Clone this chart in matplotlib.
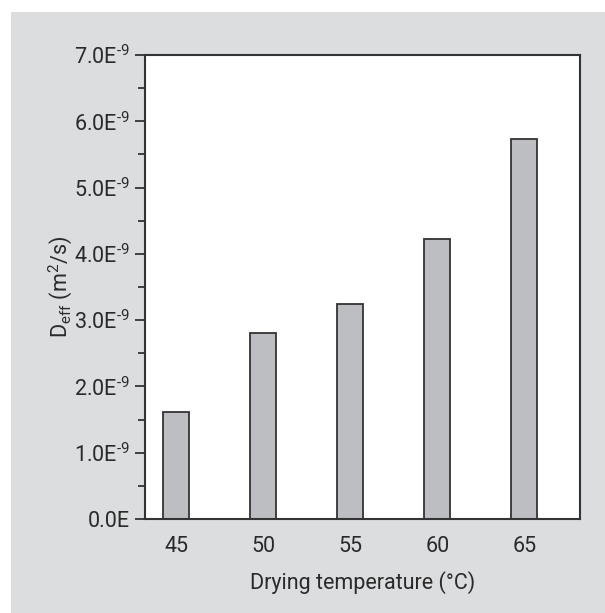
import matplotlib
matplotlib.use("Agg")
import matplotlib.pyplot as plt
from matplotlib.patches import Rectangle
from matplotlib.ticker import MultipleLocator, FixedLocator, FixedFormatter

# Data: effective moisture diffusivity at each drying temperature
temperatures = [45, 50, 55, 60, 65]
d_eff = [1.61e-9, 2.81e-9, 3.24e-9, 4.23e-9, 5.73e-9]
y_tick_values = [0, 1e-9, 2e-9, 3e-9, 4e-9, 5e-9, 6e-9, 7e-9]
y_tick_labels = ["0.0E"] + [f"{v}.0E$^{{\\text{{-9}}}}$" for v in range(1, 8)]

family = "Roboto"
plt.rcParams["font.family"] = [family, "DejaVu Sans"]
plt.rcParams["font.stretch"] = "condensed"
plt.rcParams["mathtext.fontset"] = "custom"
plt.rcParams["mathtext.rm"] = family
plt.rcParams["mathtext.it"] = family
plt.rcParams["mathtext.default"] = "regular"

W, H = 605, 613
fig = plt.figure(figsize=(W / 100, H / 100), dpi=100, facecolor="white")

# grey panel behind the plot
fig.patches.append(Rectangle((11 / W, 0), (W - 11) / W, (H - 12) / H,
                             transform=fig.transFigure, facecolor="#dcdddf",
                             edgecolor="none", zorder=-10))

left, right, top, bottom = 145, 580, 55, 519
ax = fig.add_axes([left / W, (H - bottom) / H, (right - left) / W, (bottom - top) / H])
ax.set_zorder(1)
ax.set_facecolor("white")

dark = "#333333"
text_col = "#2a2a2a"
ax.bar(temperatures, d_eff, width=1.5, color="#bdbec2", edgecolor=dark, linewidth=1.3, zorder=2)

ax.set_xlim(43.2, 68.2)
ax.set_ylim(0, 7e-9)
ax.set_xticks(temperatures)
ax.set_xticklabels([str(t) for t in temperatures])
ax.yaxis.set_major_locator(FixedLocator(y_tick_values))
ax.yaxis.set_major_formatter(FixedFormatter(y_tick_labels))
ax.yaxis.set_minor_locator(MultipleLocator(0.5e-9))

for s in ax.spines.values():
    s.set_color(dark)
    s.set_linewidth(1.5)

ax.tick_params(axis="y", which="major", direction="out", length=7, width=1.3,
               color=dark, labelsize=15.5, labelcolor=text_col, pad=4)
ax.tick_params(axis="y", which="minor", direction="out", length=5, width=1.3, color=dark)
ax.tick_params(axis="x", which="both", length=0, labelsize=15.5, labelcolor=text_col, pad=12)

ax.set_xlabel("Drying temperature (°C)", fontsize=15.5, color=text_col, labelpad=10)
ax.set_ylabel("D$_{eff}$ (m$^2$/s)", fontsize=15.5, color=text_col, labelpad=0)

fig.savefig("out.png", dpi=100, facecolor="white")
